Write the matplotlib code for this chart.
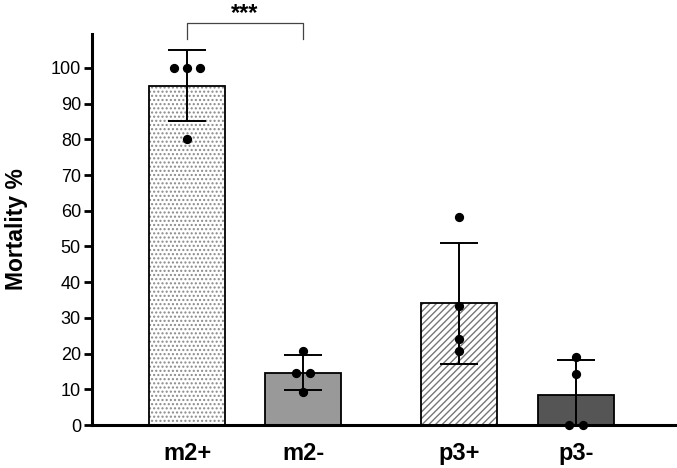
import matplotlib
matplotlib.use("Agg")
import matplotlib.pyplot as plt
import numpy as np

plt.rcParams["font.family"] = ["Liberation Sans", "DejaVu Sans"]
plt.rcParams["hatch.linewidth"] = 1.0

groups = ["m2+", "m2-", "p3+", "p3-"]
means = [95.0, 14.7, 34.1, 8.3]
sds = [10.0, 4.8, 17.0, 9.8]
points = [
    [100, 100, 100, 80],
    [20.8, 14.6, 14.6, 9.2],
    [58.3, 33.3, 24.1, 20.7],
    [19.1, 14.3, 0, 0],
]
face_colors = ["#ffffff", "#999999", "#ffffff", "#555555"]
hatch_colors = ["#8a8a8a", None, "#777777", None]
hatches = ["....", "", "/////", ""]
yticks = list(range(0, 101, 10))

pos = np.array([0.0, 1.0, 2.345, 3.353])
width = 0.66

fig = plt.figure(figsize=(6.77, 4.68), dpi=100)
ax = fig.add_axes([92 / 677, 43 / 468, 1 - 92 / 677, (425 - 34) / 468])

for x, m, fc, h, hc in zip(pos, means, face_colors, hatches, hatch_colors):
    ax.bar(x, m, width, color=fc, edgecolor=hc if h else fc, hatch=h, linewidth=0, zorder=1)
    ax.bar(x, m, width, fill=False, edgecolor="black", linewidth=1.3, zorder=2)

ax.errorbar(pos, means, yerr=sds, fmt="none", ecolor="black", elinewidth=1.4,
            capsize=13.5, capthick=1.4, zorder=3)

step = 0.115
for x, vals in zip(pos, points):
    vals = np.asarray(vals, dtype=float)
    xs = np.full(len(vals), x)
    for v in np.unique(vals):
        idx = np.where(vals == v)[0]
        n = len(idx)
        xs[idx] = x + (np.arange(n) - (n - 1) / 2) * step
    ax.scatter(xs, vals, s=32, color="black", zorder=4, clip_on=False)

# significance bracket m2+ vs m2-
yb, yt = 108.0, 112.6
ax.plot([pos[0], pos[0], pos[1], pos[1]], [yb, yt, yt, yb], color="#444444",
        linewidth=0.9, clip_on=False)
ax.text((pos[0] + pos[1]) / 2, 113.4, "***", ha="center", va="baseline",
        fontsize=17, fontweight="bold", clip_on=False)

ax.set_xlim(-0.819, 4.224)
ax.set_ylim(0, 109.5)
ax.set_yticks(yticks)
ax.tick_params(axis="y", labelsize=13, width=2, length=6, direction="out", pad=2)
ax.set_xticks(pos)
ax.set_xticklabels(groups, fontsize=17, fontweight="bold")
ax.tick_params(axis="x", length=0, pad=12)
ax.set_ylabel("Mortality %", fontsize=16.5, fontweight="bold", labelpad=16)

for side in ["top", "right"]:
    ax.spines[side].set_visible(False)
for side in ["left", "bottom"]:
    ax.spines[side].set_linewidth(2.2)

fig.savefig("out.png", dpi=100)
